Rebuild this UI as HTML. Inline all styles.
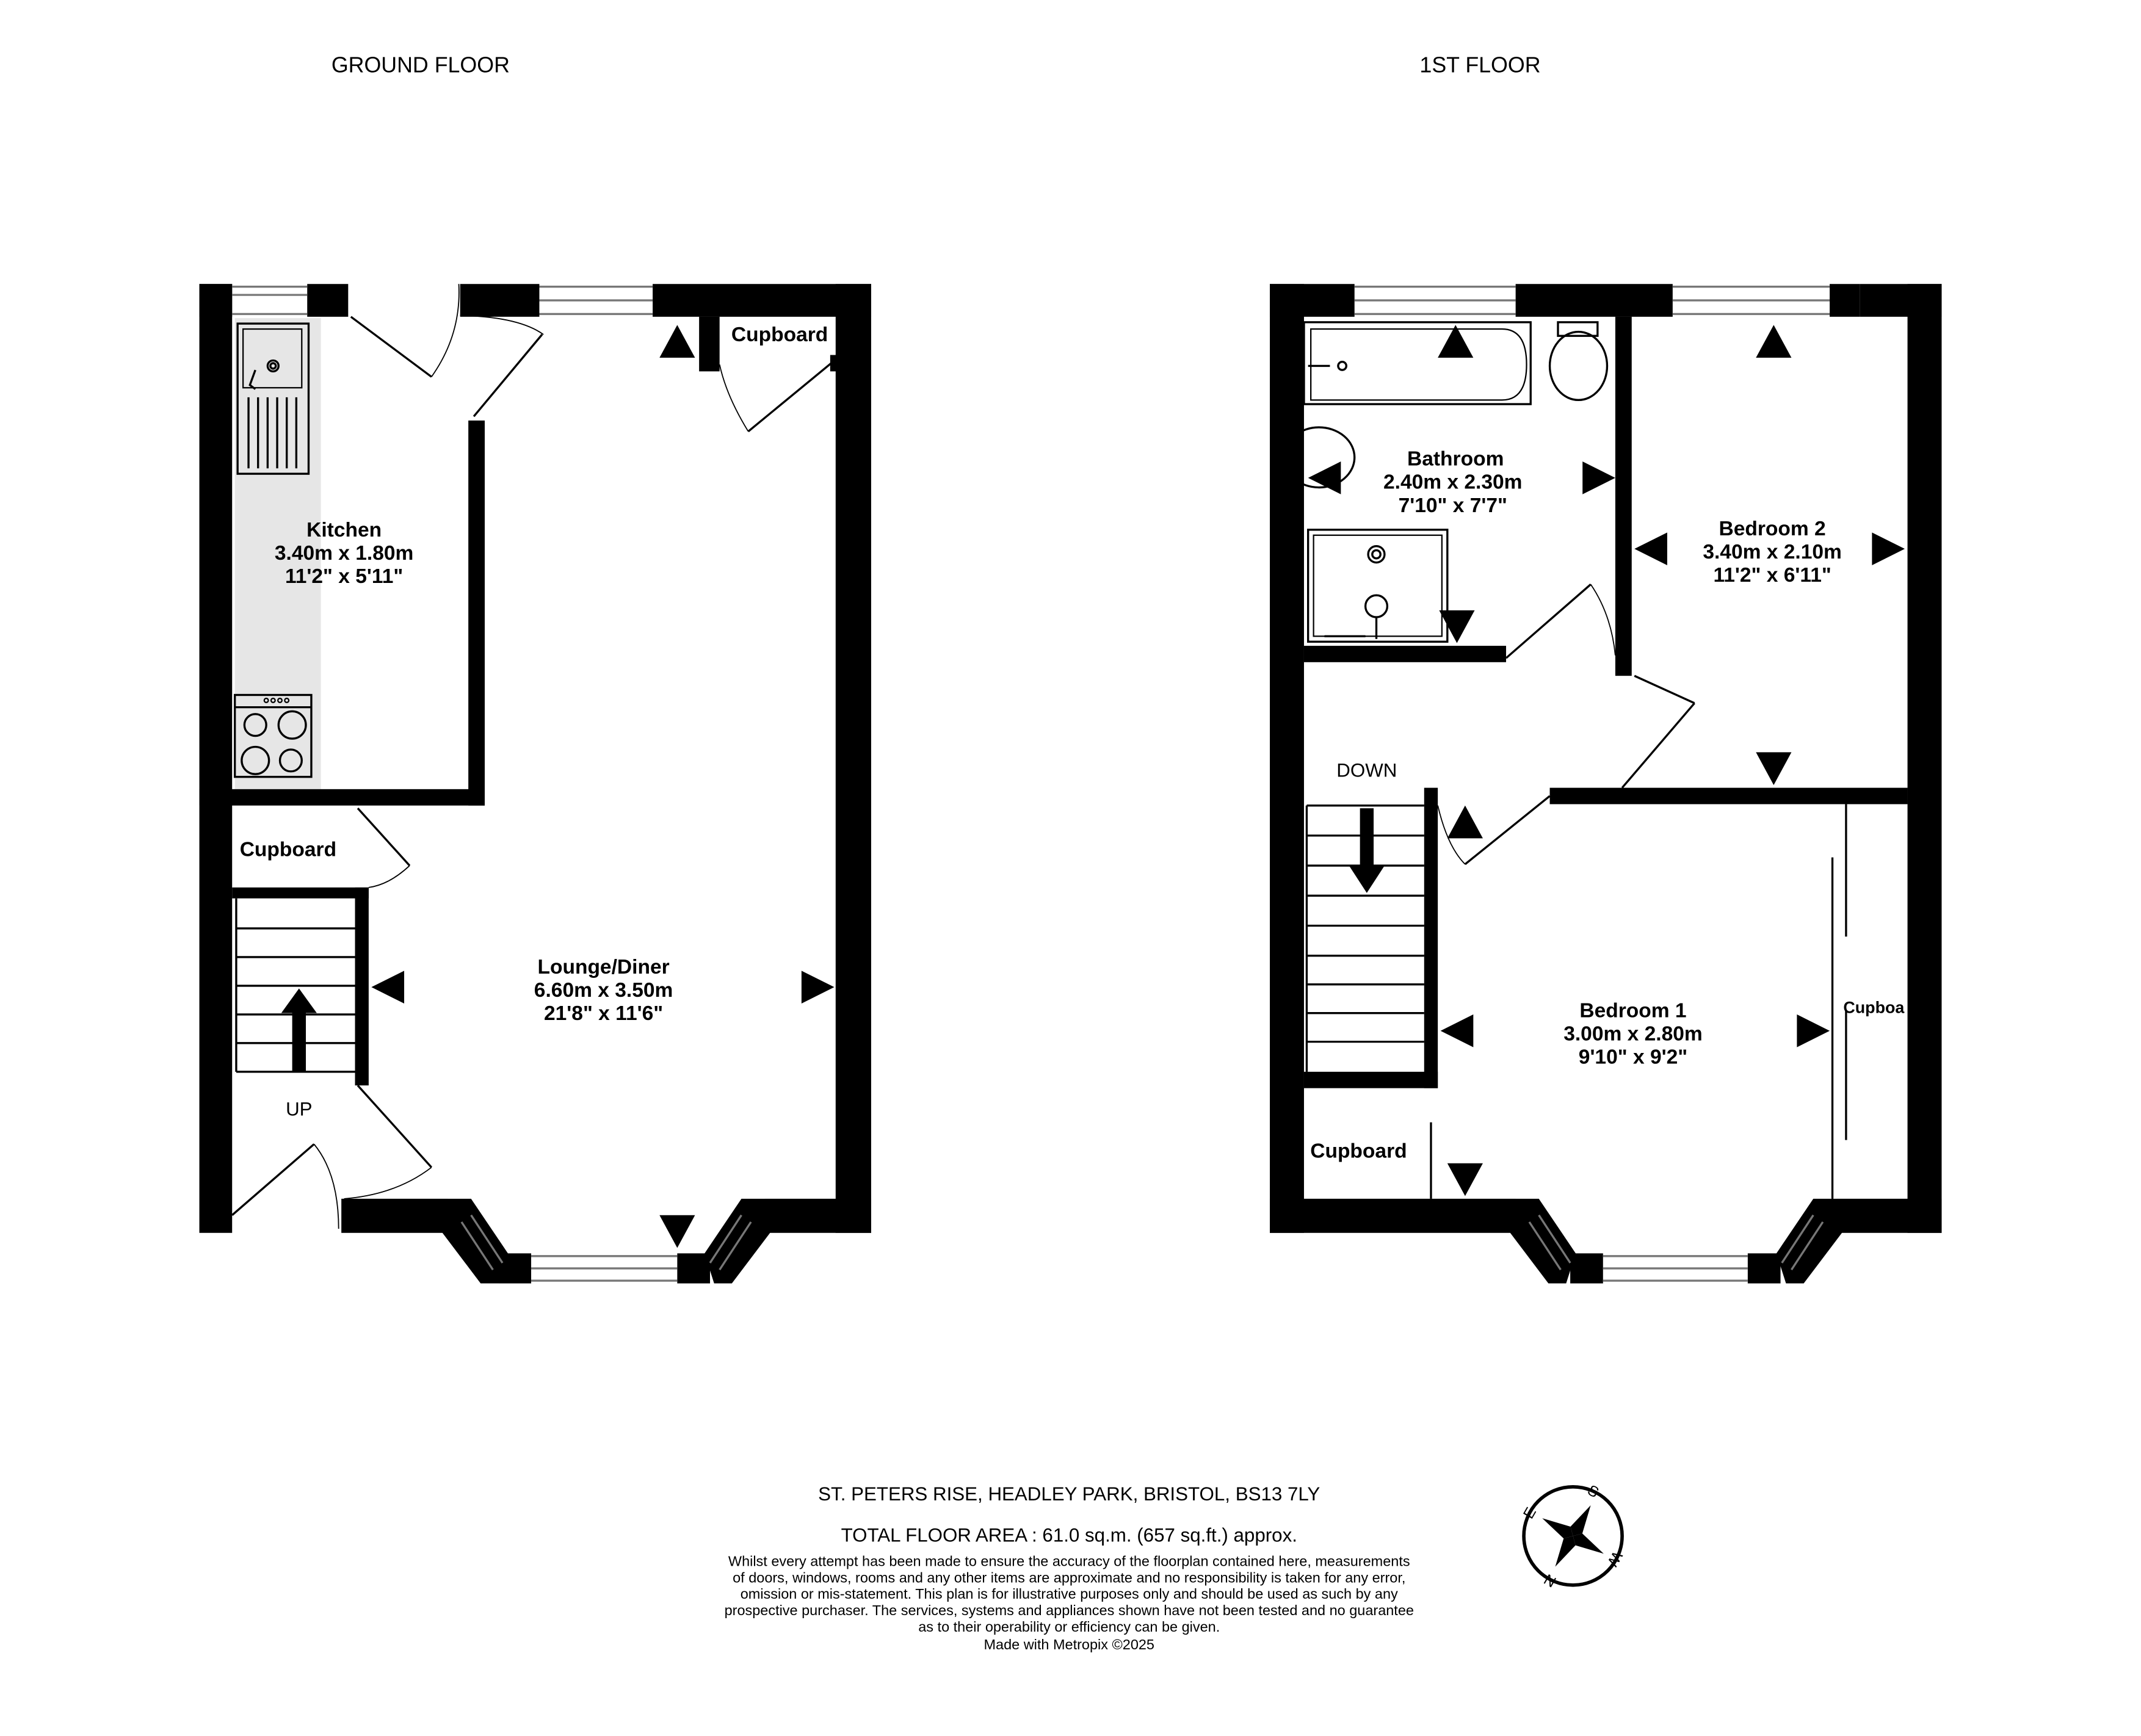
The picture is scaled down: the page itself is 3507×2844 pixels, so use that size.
<!DOCTYPE html>
<html><head><meta charset="utf-8"><style>
html,body{margin:0;padding:0;background:#fff}
svg{display:block}
text{font-family:"Liberation Sans",sans-serif}
.b{font-weight:bold;font-size:15px}
</style></head><body>
<svg width="3507" height="2844" viewBox="0 0 1568 1271.5" preserveAspectRatio="none" xmlns="http://www.w3.org/2000/svg">
<rect width="1568" height="1272" fill="#fff"/>
<text x="308" y="53" font-size="16" text-anchor="middle">GROUND FLOOR</text>
<text x="1084" y="53" font-size="16" text-anchor="middle">1ST FLOOR</text>

<!-- GROUND FLOOR -->
<rect x="172" y="233" width="63" height="345" fill="#e6e6e6"/>
<g fill="#000">
<rect x="146" y="208" width="24" height="695"/>
<rect x="146" y="208" width="24" height="24"/>
<rect x="225" y="208" width="30" height="24"/>
<rect x="337" y="208" width="58" height="24"/>
<rect x="478" y="208" width="160" height="24"/>
<rect x="612" y="208" width="26" height="695"/>
<rect x="512" y="232" width="15" height="40"/>
<rect x="608" y="260" width="6" height="12"/>
<rect x="343" y="308" width="12" height="282"/>
<rect x="146" y="578" width="209" height="12"/>
<rect x="170" y="650" width="100" height="8"/>
<rect x="260" y="650" width="10" height="145"/>
<rect x="250" y="878" width="78" height="25"/>
<rect x="560" y="878" width="78" height="25"/>
<polygon points="328,878 345,878 372,918 365,940 352,940 318,895"/>
<polygon points="560,878 543,878 516,918 523,940 536,940 570,895"/>
<rect x="365" y="918" width="24" height="22"/>
<rect x="496" y="918" width="24" height="22"/>
</g>
<g fill="none" stroke="#777" stroke-width="1.5">
<line x1="170" y1="210" x2="225" y2="210"/><line x1="170" y1="216" x2="225" y2="216"/><line x1="170" y1="230" x2="225" y2="230"/>
<line x1="395" y1="210" x2="478" y2="210"/><line x1="395" y1="220" x2="478" y2="220"/><line x1="395" y1="230" x2="478" y2="230"/>
<line x1="389" y1="920" x2="496" y2="920"/><line x1="389" y1="929" x2="496" y2="929"/><line x1="389" y1="938" x2="496" y2="938"/>
<line x1="345" y1="890" x2="368" y2="925"/><line x1="338" y1="895" x2="361" y2="930"/>
<line x1="543" y1="890" x2="520" y2="925"/><line x1="550" y1="895" x2="527" y2="930"/>
</g>
<g fill="none" stroke="#000" stroke-width="1.5">
<line x1="257" y1="232" x2="316" y2="276"/><path d="M316,276 Q338,245 336,208" stroke-width="0.8"/>
<line x1="397" y1="245" x2="347" y2="305"/><path d="M337,231 Q380,232 398,245" stroke-width="0.8"/>
<line x1="610" y1="265" x2="548" y2="316"/><path d="M548,316 Q532,290 527,267" stroke-width="0.8"/>
<line x1="262" y1="592" x2="300" y2="634"/><path d="M300,634 Q285,648 270,650" stroke-width="0.8"/>
<line x1="262" y1="795" x2="316" y2="855"/><path d="M316,855 Q290,875 252,878" stroke-width="0.8"/>
<line x1="170" y1="890" x2="230" y2="838"/><path d="M230,838 Q248,860 248,900" stroke-width="0.8"/>
</g>
<g fill="none" stroke="#000" stroke-width="1.5">
<rect x="174" y="237" width="52" height="110"/><rect x="178" y="241" width="43" height="43" stroke-width="1"/>
<circle cx="200" cy="268" r="4"/><circle cx="200" cy="268" r="2"/>
<line x1="182" y1="291" x2="182" y2="343"/><line x1="189" y1="291" x2="189" y2="343"/><line x1="196" y1="291" x2="196" y2="343"/><line x1="203" y1="291" x2="203" y2="343"/><line x1="210" y1="291" x2="210" y2="343"/><line x1="217" y1="291" x2="217" y2="343"/>
<path d="M187,271 L183,282 L187,285"/>
<rect x="172" y="509" width="56" height="60"/><line x1="172" y1="518" x2="228" y2="518"/>
<circle cx="187" cy="531" r="8"/><circle cx="214" cy="531" r="10"/><circle cx="187" cy="557" r="10"/><circle cx="213" cy="557" r="8"/>
</g>
<g fill="none" stroke="#000" stroke-width="1"><circle cx="195" cy="513" r="1.5"/><circle cx="200" cy="513" r="1.5"/><circle cx="205" cy="513" r="1.5"/><circle cx="210" cy="513" r="1.5"/></g>
<g stroke="#000" stroke-width="1.5"><line x1="173" y1="658" x2="173" y2="785"/><line x1="173" y1="680" x2="260" y2="680"/><line x1="173" y1="701" x2="260" y2="701"/><line x1="173" y1="722" x2="260" y2="722"/><line x1="173" y1="743" x2="260" y2="743"/><line x1="173" y1="764" x2="260" y2="764"/><line x1="173" y1="785" x2="260" y2="785"/></g>
<rect x="214" y="740" width="10" height="45" fill="#000"/><polygon points="206,742 219,724 232,742" fill="#000"/>
<g fill="#000">
<polygon points="483,262 496,238 509,262"/>
<polygon points="272,723 296,711 296,735"/>
<polygon points="611,723 587,711 587,735"/>
<polygon points="483,890 496,914 509,890"/>
</g>
<text class="b" x="252" y="393" text-anchor="middle">Kitchen</text>
<text class="b" x="252" y="410" text-anchor="middle">3.40m  x 1.80m</text>
<text class="b" x="252" y="427" text-anchor="middle">11'2"  x 5'11"</text>
<text class="b" x="571" y="250" text-anchor="middle">Cupboard</text>
<text class="b" x="211" y="627" text-anchor="middle">Cupboard</text>
<text class="b" x="442" y="713" text-anchor="middle">Lounge/Diner</text>
<text class="b" x="442" y="730" text-anchor="middle">6.60m  x 3.50m</text>
<text class="b" x="442" y="747" text-anchor="middle">21'8"  x 11'6"</text>
<text x="219" y="817" font-size="14" text-anchor="middle">UP</text>

<!-- FIRST FLOOR -->
<g fill="#000">
<rect x="930" y="208" width="25" height="695"/>
<rect x="930" y="208" width="62" height="24"/>
<rect x="1110" y="208" width="115" height="24"/>
<rect x="1340" y="208" width="22" height="24"/>
<rect x="1362" y="208" width="60" height="24"/>
<rect x="1397" y="208" width="25" height="695"/>
<rect x="1183" y="232" width="12" height="263"/>
<rect x="955" y="473" width="148" height="12"/>
<rect x="1135" y="577" width="262" height="12"/>
<rect x="1043" y="577" width="10" height="220"/>
<rect x="955" y="785" width="98" height="12"/>
<rect x="930" y="878" width="180" height="25"/>
<rect x="1345" y="878" width="77" height="25"/>
<polygon points="1110,878 1127,878 1154,918 1147,940 1134,940 1100,895"/>
<polygon points="1345,878 1328,878 1301,918 1308,940 1321,940 1355,895"/>
<rect x="1150" y="918" width="24" height="22"/>
<rect x="1280" y="918" width="24" height="22"/>
</g>
<g fill="none" stroke="#777" stroke-width="1.5">
<line x1="992" y1="210" x2="1110" y2="210"/><line x1="992" y1="220" x2="1110" y2="220"/><line x1="992" y1="230" x2="1110" y2="230"/>
<line x1="1225" y1="210" x2="1340" y2="210"/><line x1="1225" y1="220" x2="1340" y2="220"/><line x1="1225" y1="230" x2="1340" y2="230"/>
<line x1="1174" y1="920" x2="1280" y2="920"/><line x1="1174" y1="929" x2="1280" y2="929"/><line x1="1174" y1="938" x2="1280" y2="938"/>
<line x1="1127" y1="890" x2="1150" y2="925"/><line x1="1120" y1="895" x2="1143" y2="930"/>
<line x1="1328" y1="890" x2="1305" y2="925"/><line x1="1335" y1="895" x2="1312" y2="930"/>
</g>
<g fill="none" stroke="#000" stroke-width="1.5">
<line x1="1103" y1="482" x2="1165" y2="428"/><path d="M1165,428 Q1180,450 1183,480" stroke-width="0.8"/>
<line x1="1197" y1="495" x2="1241" y2="515"/><line x1="1241" y1="515" x2="1188" y2="577"/>
<line x1="1073" y1="633" x2="1135" y2="583"/><path d="M1073,633 Q1060,620 1053,590" stroke-width="0.8"/>
<line x1="1352" y1="589" x2="1352" y2="686"/><line x1="1352" y1="740" x2="1352" y2="835"/>
<line x1="1342" y1="628" x2="1342" y2="878"/>
<line x1="1048" y1="822" x2="1048" y2="878"/>
<rect x="955" y="236" width="166" height="60"/>
<path d="M960,241 L1100,241 Q1118,241 1118,267 Q1118,293 1100,293 L960,293 Z" stroke-width="1"/>
<circle cx="983" cy="268" r="3"/>
<line x1="958" y1="268" x2="974" y2="268"/>
<rect x="1141" y="236" width="29" height="10"/>
<ellipse cx="1156" cy="268" rx="21" ry="25"/>
<ellipse cx="966" cy="335" rx="26" ry="22"/>
<rect x="958" y="388" width="102" height="82"/><rect x="962" y="392" width="94" height="74" stroke-width="1"/>
<circle cx="1008" cy="406" r="6"/><circle cx="1008" cy="406" r="3"/>
<circle cx="1008" cy="444" r="8"/><line x1="1008" y1="452" x2="1008" y2="468"/>
<line x1="970" y1="466" x2="1000" y2="466"/>
</g>
<g stroke="#000" stroke-width="1.5"><line x1="957" y1="590" x2="957" y2="785"/><line x1="957" y1="590" x2="1043" y2="590"/><line x1="957" y1="612" x2="1043" y2="612"/><line x1="957" y1="634" x2="1043" y2="634"/><line x1="957" y1="656" x2="1043" y2="656"/><line x1="957" y1="678" x2="1043" y2="678"/><line x1="957" y1="700" x2="1043" y2="700"/><line x1="957" y1="721" x2="1043" y2="721"/><line x1="957" y1="742" x2="1043" y2="742"/><line x1="957" y1="763" x2="1043" y2="763"/></g>
<rect x="996" y="592" width="10" height="44" fill="#000"/><polygon points="988,634 1001,654 1014,634" fill="#000"/>
<g fill="#000">
<polygon points="1053,262 1066,238 1079,262"/>
<polygon points="1286,262 1299,238 1312,262"/>
<polygon points="1183,350 1159,338 1159,362"/>
<polygon points="958,350 982,338 982,362"/>
<polygon points="1197,402 1221,390 1221,414"/>
<polygon points="1395,402 1371,390 1371,414"/>
<polygon points="1054,447 1067,471 1080,447"/>
<polygon points="1286,551 1299,575 1312,551"/>
<polygon points="1060,614 1073,590 1086,614"/>
<polygon points="1055,755 1079,743 1079,767"/>
<polygon points="1340,755 1316,743 1316,767"/>
<polygon points="1060,852 1073,876 1086,852"/>
</g>
<text class="b" x="1066" y="341" text-anchor="middle">Bathroom</text>
<text class="b" x="1064" y="358" text-anchor="middle">2.40m  x 2.30m</text>
<text class="b" x="1064" y="375" text-anchor="middle">7'10"  x 7'7"</text>
<text class="b" x="1298" y="392" text-anchor="middle">Bedroom 2</text>
<text class="b" x="1298" y="409" text-anchor="middle">3.40m  x 2.10m</text>
<text class="b" x="1298" y="426" text-anchor="middle">11'2"  x 6'11"</text>
<text class="b" x="1196" y="745" text-anchor="middle">Bedroom 1</text>
<text class="b" x="1196" y="762" text-anchor="middle">3.00m  x 2.80m</text>
<text class="b" x="1196" y="779" text-anchor="middle">9'10"  x 9'2"</text>
<text class="b" x="995" y="848" text-anchor="middle">Cupboard</text>
<text x="1350" y="742" font-size="12" font-weight="bold">Cupboa</text>
<text x="1001" y="569" font-size="14" text-anchor="middle">DOWN</text>

<text x="783" y="1099" font-size="14" text-anchor="middle">ST. PETERS RISE, HEADLEY PARK, BRISTOL, BS13 7LY</text>
<text x="783" y="1129" font-size="14" text-anchor="middle">TOTAL FLOOR AREA : 61.0 sq.m. (657 sq.ft.) approx.</text>
<g font-size="10.5" text-anchor="middle">
<text x="783" y="1147">Whilst every attempt has been made to ensure the accuracy of the floorplan contained here, measurements</text>
<text x="783" y="1159">of doors, windows, rooms and any other items are approximate and no responsibility is taken for any error,</text>
<text x="783" y="1171">omission or mis-statement. This plan is for illustrative purposes only and should be used as such by any</text>
<text x="783" y="1183">prospective purchaser. The services, systems and appliances shown have not been tested and no guarantee</text>
<text x="783" y="1195">as to their operability or efficiency can be given.</text>
<text x="783" y="1208">Made with Metropix ©2025</text>
</g>
<g transform="translate(1152,1125)">
<circle r="36" fill="none" stroke="#000" stroke-width="2.5"/>
<g transform="rotate(-150)"><polygon points="0,-26 5,-5 0,0 -5,-5" fill="#000"/><polygon points="0,26 5,5 0,0 -5,5" fill="#000"/><polygon points="-26,0 -5,5 0,0 -5,-5" fill="#000"/><polygon points="26,0 5,5 0,0 5,-5" fill="#000"/></g>
<text x="15" y="-29" font-size="11" text-anchor="middle" transform="rotate(30 15 -33)">S</text>
<text x="31" y="21" font-size="11" text-anchor="middle" transform="rotate(120 31 17)">W</text>
<text x="-17" y="37" font-size="11" text-anchor="middle" transform="rotate(210 -17 33)">N</text>
<text x="-32" y="-13" font-size="11" text-anchor="middle" transform="rotate(300 -32 -17)">E</text>
</g>
</svg>
</body></html>
